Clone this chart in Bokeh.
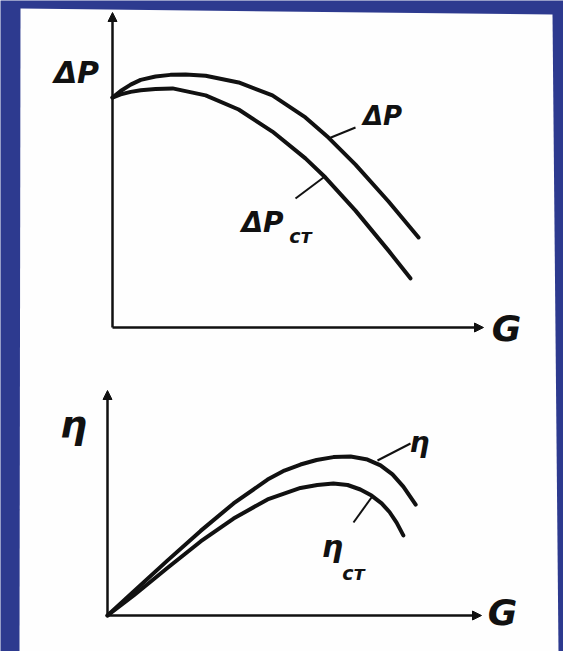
from bokeh.plotting import figure
from bokeh.models import Range1d, Arrow, NormalHead, Label
from bokeh.embed import file_html
from bokeh.resources import INLINE

W, H = 563, 651

# Pressure characteristic: total and static pressure vs. flow G (relative units)
g_dp = [0, 0.022, 0.049, 0.076, 0.116, 0.156, 0.197, 0.251, 0.340, 0.431,
        0.520, 0.582, 0.655, 0.744, 0.825]
dp_total = [0.730, 0.751, 0.771, 0.786, 0.797, 0.802, 0.803, 0.799, 0.778, 0.737,
            0.667, 0.603, 0.517, 0.400, 0.286]
g_dp_st = [0, 0.022, 0.049, 0.076, 0.116, 0.162, 0.251, 0.340, 0.431, 0.520,
           0.574, 0.655, 0.744, 0.803]
dp_static = [0.730, 0.740, 0.748, 0.753, 0.757, 0.759, 0.737, 0.692, 0.622, 0.537,
             0.476, 0.371, 0.244, 0.156]

# Efficiency characteristic: total and static efficiency vs. flow G
g_eta = [0, 0.070, 0.160, 0.249, 0.337, 0.428, 0.473, 0.516, 0.559, 0.604,
         0.650, 0.695, 0.730, 0.762, 0.791, 0.824]
eta_total = [0, 0.107, 0.244, 0.376, 0.498, 0.604, 0.644, 0.671, 0.691, 0.704,
             0.707, 0.693, 0.667, 0.627, 0.573, 0.493]
g_eta_st = [0, 0.070, 0.160, 0.249, 0.337, 0.428, 0.516, 0.561, 0.604, 0.642,
            0.676, 0.706, 0.733, 0.754, 0.773, 0.791]
eta_static = [0, 0.089, 0.211, 0.329, 0.431, 0.516, 0.567, 0.580, 0.587, 0.580,
              0.560, 0.533, 0.498, 0.460, 0.413, 0.356]

# Axis extents (arrows) in relative units
axis_span = [0, 1]

INK = "#111111"
BLUE = "#2d3a8f"
FONT = "DejaVu Sans"


def x_range_for(px_zero, px_one):
    """Range so that value 0 sits at px_zero and value 1 at px_one (canvas px)."""
    s = px_one - px_zero
    return Range1d(start=-px_zero / s, end=(W - px_zero) / s)


def y_range_for(px_zero, px_one):
    """Range so that value 0 sits at row px_zero and value 1 at row px_one."""
    s = px_zero - px_one
    return Range1d(start=(px_zero - H) / s, end=px_zero / s)


p = figure(width=W, height=H, x_range=Range1d(0, W), y_range=Range1d(H, 0),
           min_border=0, toolbar_location=None, output_backend="svg",
           x_axis_location=None, y_axis_location=None,
           background_fill_color=BLUE, border_fill_color=BLUE,
           outline_line_color=None)
p.grid.visible = False

# sheet of paper
p.patch([20, 552, 558, 19], [8, 14, 651, 651], fill_color="#fefefe",
        line_color=None)

p.extra_x_ranges = {"g_top": x_range_for(112, 483), "g_bot": x_range_for(107, 481)}
p.extra_y_ranges = {"dp": y_range_for(327, 12), "eta": y_range_for(615, 390)}


def add_axes(xr, yr):
    for (xs, ys, xe, ye) in [(axis_span[0], axis_span[0], axis_span[1], axis_span[0]),
                             (axis_span[0], axis_span[0], axis_span[0], axis_span[1])]:
        p.add_layout(Arrow(x_start=xs, y_start=ys, x_end=xe, y_end=ye,
                           x_range_name=xr, y_range_name=yr,
                           line_color=INK, line_width=2.5,
                           end=NormalHead(size=9, fill_color=INK, line_color=INK,
                                          line_width=1)))


add_axes("g_top", "dp")
add_axes("g_bot", "eta")

curve_style = dict(line_color=INK, line_width=4, line_cap="round", line_join="round")
p.line(g_dp, dp_total, x_range_name="g_top", y_range_name="dp", **curve_style)
p.line(g_dp_st, dp_static, x_range_name="g_top", y_range_name="dp", **curve_style)
p.line(g_eta, eta_total, x_range_name="g_bot", y_range_name="eta", **curve_style)
p.line(g_eta_st, eta_static, x_range_name="g_bot", y_range_name="eta", **curve_style)

# leader lines from curves to their labels
p.segment(x0=[328, 323, 377, 371], y0=[138, 177, 460, 497],
          x1=[355, 295, 410, 353], y1=[127, 198, 443, 522],
          line_color=INK, line_width=2)


def label(x, y, text, size, align="center"):
    p.add_layout(Label(x=x, y=y, text=text, text_font=FONT,
                       text_font_size=f"{size}px", text_font_style="bold italic",
                       text_color=INK, text_align=align, text_baseline="middle"))


# upper panel
label(76, 72, "ΔP", 30)
label(382, 115, "ΔP", 26)
label(262, 222, "ΔP", 28)
label(300, 235, "ст", 19)
label(506, 328, "G", 36)

# lower panel
label(73, 424, "η", 38)
label(419, 442, "η", 28)
label(332, 546, "η", 30)
label(353, 572, "ст", 19)
label(502, 612, "G", 36)

open("out.html", "w").write(file_html(p, INLINE))
